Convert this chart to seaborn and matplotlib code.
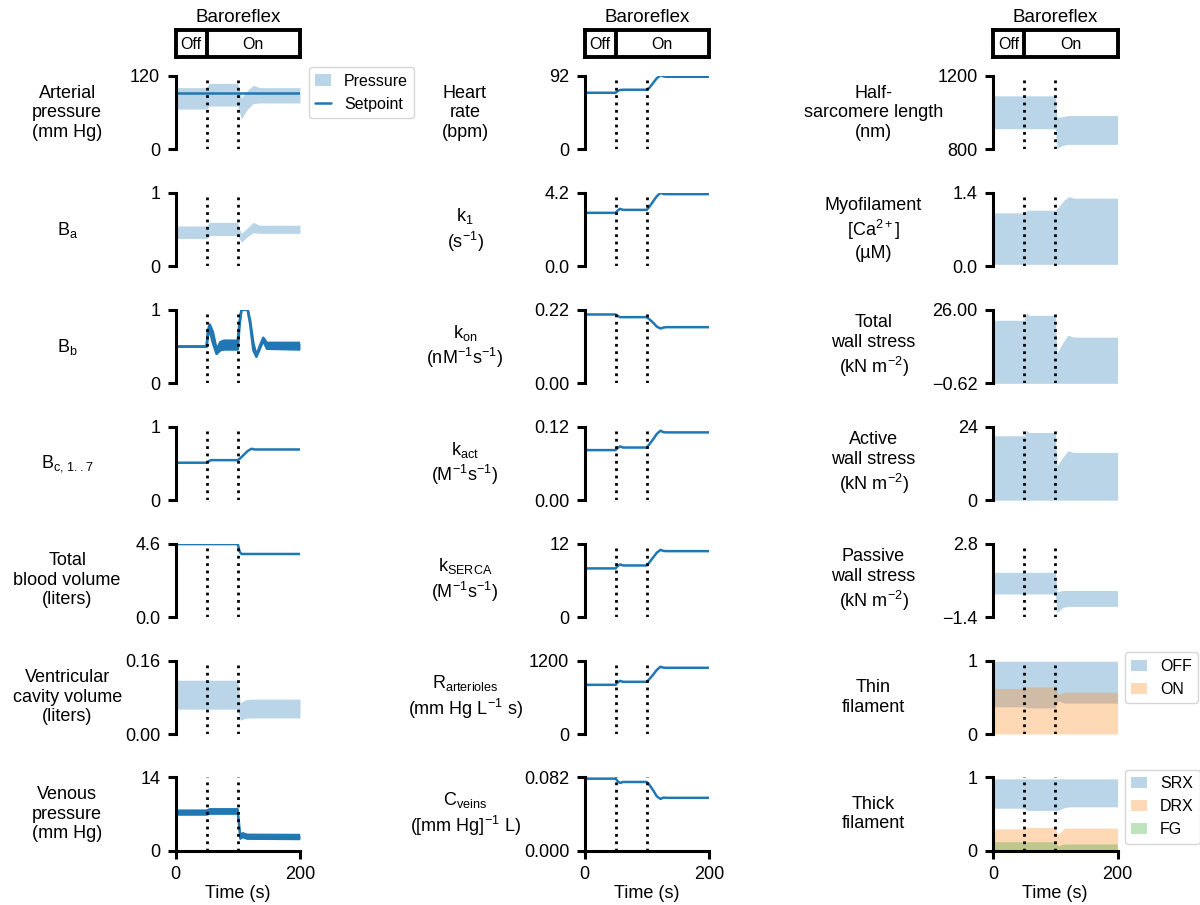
import matplotlib
matplotlib.use("Agg")
import matplotlib.pyplot as plt
import matplotlib.patches as mpatches
from matplotlib.lines import Line2D
import seaborn as sns

# ---------------- data (time in s) ----------------
# column 1
t_ap = [0, 50, 54, 100, 103, 106, 115, 125, 135, 200]
ap_hi = [101, 101, 108, 108, 95, 84, 96, 105, 101, 101]
ap_lo = [66, 66, 71, 71, 60, 50, 65, 75, 76, 76]
t_setpoint = [0, 200]
setpoint = [92, 92]

t_ba = [0, 50, 55, 100, 103, 106, 115, 125, 135, 200]
ba_hi = [0.55, 0.55, 0.60, 0.60, 0.50, 0.45, 0.52, 0.60, 0.56, 0.56]
ba_lo = [0.38, 0.38, 0.42, 0.42, 0.37, 0.33, 0.40, 0.46, 0.45, 0.45]

t_bb = [0, 50, 52, 55, 60, 66, 72, 78, 100, 103, 106, 116, 120, 125, 130, 136, 141, 147, 200]
bb_hi = [0.5, 0.5, 0.72, 0.80, 0.70, 0.46, 0.56, 0.58, 0.58, 0.85, 1.0, 1.0, 0.85, 0.55, 0.38, 0.52, 0.62, 0.55, 0.55]
bb_lo = [0.5, 0.5, 0.65, 0.72, 0.55, 0.40, 0.45, 0.46, 0.46, 0.80, 1.0, 1.0, 0.80, 0.45, 0.36, 0.48, 0.58, 0.47, 0.46]

t_bc = [0, 50, 53, 57, 100, 104, 110, 116, 122, 127, 132, 200]
bc = [0.51, 0.51, 0.53, 0.545, 0.545, 0.57, 0.62, 0.67, 0.70, 0.69, 0.69, 0.69]

t_vol = [0, 100, 103, 106, 200]
blood_vol = [4.57, 4.57, 4.1, 3.95, 3.95]

t_vc = [0, 100, 104, 112, 120, 200]
vc_hi = [0.117, 0.117, 0.068, 0.074, 0.076, 0.076]
vc_lo = [0.054, 0.054, 0.030, 0.034, 0.035, 0.035]

t_vp = [0, 50, 55, 100, 104, 108, 115, 200]
vp_hi = [7.7, 7.7, 7.96, 7.96, 3.1, 3.4, 3.1, 3.06]
vp_lo = [6.9, 6.9, 7.07, 7.07, 2.3, 2.6, 2.3, 2.23]

# column 2
t_ctrl = [0, 50, 53, 57, 62, 100, 104, 110, 116, 122, 127, 132, 200]
heart_rate = [71, 71, 73, 74.5, 74.8, 74.8, 77, 83, 89, 93, 91.5, 91, 91]
k1 = [3.06, 3.06, 3.18, 3.29, 3.23, 3.23, 3.4, 3.7, 4.0, 4.2, 4.14, 4.13, 4.13]
k_on = [0.206, 0.206, 0.202, 0.198, 0.198, 0.198, 0.192, 0.182, 0.170, 0.164, 0.167, 0.168, 0.168]
k_act = [0.0818, 0.0818, 0.085, 0.0878, 0.086, 0.086, 0.091, 0.099, 0.108, 0.1134, 0.111, 0.1107, 0.1107]
k_serca = [7.95, 7.95, 8.3, 8.6, 8.43, 8.43, 8.9, 9.7, 10.5, 10.98, 10.8, 10.77, 10.77]
r_art = [803, 803, 840, 867, 852, 852, 895, 965, 1045, 1097, 1083, 1081, 1081]
c_veins = [0.0806, 0.0806, 0.078, 0.0758, 0.0769, 0.0769, 0.074, 0.068, 0.061, 0.058, 0.0595, 0.0592, 0.0592]

# column 3
t_hsl = [0, 100, 103, 110, 120, 200]
hsl_hi = [1092, 1092, 975, 978, 985, 985]
hsl_lo = [913, 913, 806, 820, 828, 828]

t_ca = [0, 50, 55, 100, 106, 114, 122, 130, 200]
ca_hi = [1.02, 1.02, 1.07, 1.07, 1.14, 1.26, 1.33, 1.30, 1.30]
ca_lo = [0.04, 0.04, 0.04, 0.04, 0.04, 0.04, 0.04, 0.04, 0.04]

t_ws = [0, 50, 54, 58, 100, 103, 112, 120, 130, 200]
tot_hi = [22.2, 22.2, 25.0, 24.0, 24.0, 10.4, 14.0, 16.8, 16.1, 16.1]
tot_lo = [-0.62, -0.62, -0.62, -0.62, -0.62, -0.62, -0.62, -0.62, -0.62, -0.62]
act_hi = [21.05, 21.05, 22.9, 22.1, 22.1, 11.2, 14.0, 16.1, 15.6, 15.6]
act_lo = [0, 0, 0, 0, 0, 0, 0, 0, 0, 0]

t_pas = [0, 100, 103, 112, 120, 200]
pas_hi = [1.16, 1.16, 0.05, 0.12, 0.12, 0.12]
pas_lo = [-0.08, -0.08, -1.14, -0.85, -0.79, -0.79]

t_thin = [0, 50, 55, 100, 105, 115, 200]
off_hi = [0.99, 0.99, 0.99, 0.99, 0.99, 0.99, 0.99]
off_lo = [0.37, 0.37, 0.355, 0.355, 0.45, 0.42, 0.42]
on_hi = [0.62, 0.62, 0.64, 0.64, 0.54, 0.57, 0.57]
on_lo = [0.0, 0.0, 0.0, 0.0, 0.0, 0.0, 0.0]

t_thick = [0, 50, 55, 100, 104, 115, 125, 200]
srx_hi = [0.98, 0.98, 0.98, 0.98, 0.98, 0.98, 0.98, 0.98]
srx_lo = [0.58, 0.58, 0.55, 0.55, 0.55, 0.59, 0.60, 0.60]
drx_hi = [0.30, 0.30, 0.32, 0.32, 0.22, 0.31, 0.31, 0.31]
drx_lo = [0.0, 0.0, 0.0, 0.0, 0.0, 0.0, 0.0, 0.0]
fg_hi = [0.125, 0.125, 0.125, 0.125, 0.07, 0.095, 0.095, 0.095]
fg_lo = [0.0, 0.0, 0.0, 0.0, 0.0, 0.0, 0.0, 0.0]

events = [50, 100]

# ---------------- style ----------------
sns.set_style("ticks")
plt.rcParams['font.family'] = ['Liberation Sans', 'DejaVu Sans']
plt.rcParams['mathtext.fontset'] = 'custom'
plt.rcParams['mathtext.rm'] = 'Liberation Sans'
plt.rcParams['mathtext.it'] = 'Liberation Sans:italic'
plt.rcParams['mathtext.default'] = 'regular'
for k in ['text.color', 'axes.labelcolor', 'xtick.color', 'ytick.color', 'axes.edgecolor']:
    plt.rcParams[k] = 'black'

pal = sns.color_palette("tab10")
c_blue, c_orange, c_green = pal[0], pal[1], pal[2]
LW = 2.2
FS = 13

W, H = 1200, 905
fig = plt.figure(figsize=(W / 100, H / 100), dpi=100)

col_left = [175.5, 584.5, 993.0]
ax_w = 124.5
row_top0, row_pitch, ax_h = 76.0, 116.9, 73.5
label_x = [-0.87, -0.96, -0.96]


def make_ax(col, row):
    top = row_top0 + row * row_pitch
    return fig.add_axes([col_left[col] / W, 1 - (top + ax_h) / H, ax_w / W, ax_h / H])


def band(ax, t, lo, hi, color, alpha=0.3):
    ax.fill_between(t, lo, hi, color=color, alpha=alpha, lw=0)


def line(ax, t, y, lw=1.8):
    sns.lineplot(x=t, y=y, ax=ax, color=c_blue, lw=lw)


def style(ax, col, label, ylo, yhi, ticklabels, bottom=False):
    ax.set_xlim(0, 200)
    ax.set_ylim(ylo, yhi)
    for ev in events:
        ax.axvline(ev, color='k', ls=':', lw=2)
    for s in ['top', 'right']:
        ax.spines[s].set_visible(False)
    ax.spines['left'].set_linewidth(LW)
    ax.spines['left'].set_bounds(ylo, yhi)
    ax.set_yticks([ylo, yhi])
    ax.set_yticklabels(ticklabels)
    ax.tick_params(axis='y', length=6, width=LW, labelsize=FS, pad=5)
    ax.set_ylabel(label, rotation=0, ha='center', va='center', fontsize=FS,
                  multialignment='center')
    ax.yaxis.set_label_coords(label_x[col], 0.5)
    if bottom:
        ax.spines['bottom'].set_linewidth(LW)
        ax.spines['bottom'].set_bounds(0, 200)
        ax.set_xticks([0, 200])
        ax.set_xticklabels(['0', '200'])
        ax.tick_params(axis='x', length=6, width=LW, labelsize=FS, pad=5)
        ax.set_xlabel('Time (s)', fontsize=FS, labelpad=1)
    else:
        ax.spines['bottom'].set_visible(False)
        ax.set_xticks([])
        ax.set_xlabel('')


# ---------------- baroreflex bars ----------------
for col in range(3):
    bx = fig.add_axes([col_left[col] / W, 1 - 57 / H, ax_w / W, 27 / H])
    bx.set_xlim(0, 200)
    bx.set_ylim(0, 1)
    bx.set_xticks([])
    bx.set_yticks([])
    for s in bx.spines.values():
        s.set_visible(True)
        s.set_linewidth(LW + 0.6)
        s.set_color('k')
    bx.axvline(50, color='k', lw=LW + 0.6)
    bx.text(25, 0.45, 'Off', ha='center', va='center', fontsize=11.5)
    bx.text(125, 0.45, 'On', ha='center', va='center', fontsize=11.5)
    bx.set_title('Baroreflex', fontsize=13.5, pad=6)

# ---------------- column 1 ----------------
ax = make_ax(0, 0)
band(ax, t_ap, ap_lo, ap_hi, c_blue)
line(ax, t_setpoint, setpoint)
style(ax, 0, 'Arterial\npressure\n(mm Hg)', 0, 120, ['0', '120'])
ax.legend(handles=[mpatches.Patch(color=c_blue, alpha=0.3, lw=0, label='Pressure'),
                   Line2D([], [], color=c_blue, lw=1.8, label='Setpoint')],
          loc='upper left', bbox_to_anchor=(1.07, 1.12), borderaxespad=0,
          fontsize=11.5, handlelength=1.0)

ax = make_ax(0, 1)
band(ax, t_ba, ba_lo, ba_hi, c_blue)
style(ax, 0, '$B_a$', 0, 1, ['0', '1'])

ax = make_ax(0, 2)
band(ax, t_bb, bb_lo, bb_hi, c_blue, alpha=1)
line(ax, t_bb, bb_lo, lw=1.8)
line(ax, t_bb, bb_hi, lw=1.8)
style(ax, 0, '$B_b$', 0, 1, ['0', '1'])

ax = make_ax(0, 3)
line(ax, t_bc, bc)
style(ax, 0, '$B_{c,\\,1..7}$', 0, 1, ['0', '1'])

ax = make_ax(0, 4)
line(ax, t_vol, blood_vol)
style(ax, 0, 'Total\nblood volume\n(liters)', 0, 4.6, ['0.0', '4.6'])

ax = make_ax(0, 5)
band(ax, t_vc, vc_lo, vc_hi, c_blue)
style(ax, 0, 'Ventricular\ncavity volume\n(liters)', 0, 0.16, ['0.00', '0.16'])

ax = make_ax(0, 6)
band(ax, t_vp, vp_lo, vp_hi, c_blue, alpha=1)
line(ax, t_vp, vp_lo, lw=1.5)
line(ax, t_vp, vp_hi, lw=1.5)
style(ax, 0, 'Venous\npressure\n(mm Hg)', 0, 14, ['0', '14'], bottom=True)

# ---------------- column 2 ----------------
col2 = [
    (heart_rate, 'Heart\nrate\n(bpm)', 0, 92, ['0', '92']),
    (k1, '$k_1$\n$(s^{-1})$', 0, 4.2, ['0.0', '4.2']),
    (k_on, '$k_{on}$\n$(nM^{-1}s^{-1})$', 0, 0.22, ['0.00', '0.22']),
    (k_act, '$k_{act}$\n$(M^{-1}s^{-1})$', 0, 0.12, ['0.00', '0.12']),
    (k_serca, '$k_{SERCA}$\n$(M^{-1}s^{-1})$', 0, 12, ['0', '12']),
    (r_art, '$R_{arterioles}$\n$(mm\\ Hg\\ L^{-1}\\ s)$', 0, 1200, ['0', '1200']),
    (c_veins, '$C_{veins}$\n$([mm\\ Hg]^{-1}\\ L)$', 0, 0.082, ['0.000', '0.082']),
]
for row, (vals, lab, lo, hi, tl) in enumerate(col2):
    ax = make_ax(1, row)
    line(ax, t_ctrl, vals)
    style(ax, 1, lab, lo, hi, tl, bottom=(row == 6))

# ---------------- column 3 ----------------
ax = make_ax(2, 0)
band(ax, t_hsl, hsl_lo, hsl_hi, c_blue)
style(ax, 2, 'Half-\nsarcomere length\n(nm)', 800, 1200, ['800', '1200'])

ax = make_ax(2, 1)
band(ax, t_ca, ca_lo, ca_hi, c_blue)
style(ax, 2, 'Myofilament\n$[Ca^{2+}]$\n(µM)', 0, 1.4, ['0.0', '1.4'])

ax = make_ax(2, 2)
band(ax, t_ws, tot_lo, tot_hi, c_blue)
style(ax, 2, 'Total\nwall stress\n$(kN\\ m^{-2})$', -0.62, 26, ['\u22120.62', '26.00'])

ax = make_ax(2, 3)
band(ax, t_ws, act_lo, act_hi, c_blue)
style(ax, 2, 'Active\nwall stress\n$(kN\\ m^{-2})$', 0, 24, ['0', '24'])

ax = make_ax(2, 4)
band(ax, t_pas, pas_lo, pas_hi, c_blue)
style(ax, 2, 'Passive\nwall stress\n$(kN\\ m^{-2})$', -1.4, 2.8, ['\u22121.4', '2.8'])

ax = make_ax(2, 5)
band(ax, t_thin, off_lo, off_hi, c_blue)
band(ax, t_thin, on_lo, on_hi, c_orange)
style(ax, 2, 'Thin\nfilament', 0, 1, ['0', '1'])
ax.legend(handles=[mpatches.Patch(color=c_blue, alpha=0.3, lw=0, label='OFF'),
                   mpatches.Patch(color=c_orange, alpha=0.3, lw=0, label='ON')],
          loc='upper left', bbox_to_anchor=(1.06, 1.11), borderaxespad=0,
          fontsize=11.5, handlelength=1.0)

ax = make_ax(2, 6)
band(ax, t_thick, srx_lo, srx_hi, c_blue)
band(ax, t_thick, drx_lo, drx_hi, c_orange)
band(ax, t_thick, fg_lo, fg_hi, c_green)
style(ax, 2, 'Thick\nfilament', 0, 1, ['0', '1'], bottom=True)
ax.legend(handles=[mpatches.Patch(color=c_blue, alpha=0.3, lw=0, label='SRX'),
                   mpatches.Patch(color=c_orange, alpha=0.3, lw=0, label='DRX'),
                   mpatches.Patch(color=c_green, alpha=0.3, lw=0, label='FG')],
          loc='upper left', bbox_to_anchor=(1.06, 1.10), borderaxespad=0,
          fontsize=11.5, handlelength=1.0)

fig.savefig('out.png', dpi=100)
